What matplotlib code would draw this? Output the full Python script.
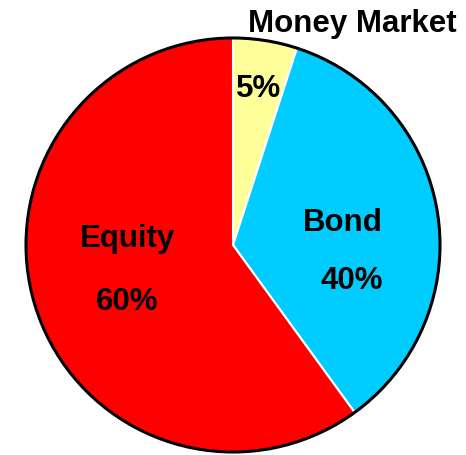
import matplotlib
matplotlib.use("Agg")
import matplotlib.pyplot as plt
from matplotlib.patches import Circle

categories = ["Money Market", "Bond", "Equity"]
values = [5, 35, 60]
pct_labels = ["5%", "40%", "60%"]
colors = ["#FFFF99", "#00CCFF", "#FF0000"]

W, H = 466, 456
fig = plt.figure(figsize=(W / 100, H / 100), dpi=100)
ax = fig.add_axes([0, 0, 1, 1])

cx, cy, r = 233, H - 246, 207
ax.pie(values, colors=colors, startangle=90, counterclock=False,
       center=(cx, cy), radius=r, frame=True,
       wedgeprops=dict(edgecolor="white", linewidth=1.5))
ax.add_patch(Circle((cx, cy), r, fill=False, edgecolor="black", linewidth=2.2))
ax.set_xlim(0, W)
ax.set_ylim(0, H)
ax.set_aspect("equal")
ax.axis("off")

fp = dict(family="Liberation Sans", weight="bold", fontsize=22.5, color="black",
          ha="center", va="baseline")
ax.text(352, H - 32, categories[0], **fp)
ax.text(259, H - 97, pct_labels[0], **fp)
ax.text(343, H - 231, categories[1], **fp)
ax.text(352, H - 289, pct_labels[1], **fp)
ax.text(127, H - 247, categories[2], **fp)
ax.text(127, H - 310, pct_labels[2], **fp)

fig.savefig("out.png", dpi=100)
